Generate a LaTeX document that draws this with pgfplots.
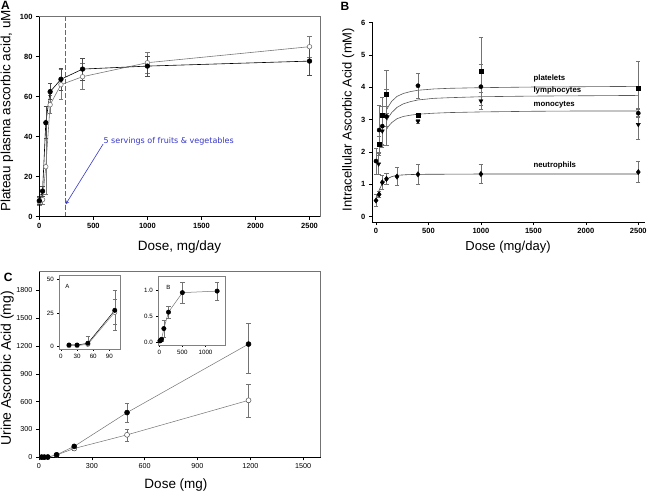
\documentclass[border=0pt]{standalone}
\usepackage{fontspec}
\setmainfont{Liberation Sans}
\newfontfamily\verd{DejaVu Sans}
\usepackage{pgfplots}
\pgfplotsset{compat=1.18}
\definecolor{annot}{RGB}{55,55,200}
\definecolor{dashc}{RGB}{90,90,215}
\definecolor{og}{RGB}{120,120,120}
\pgfplotsset{
  every axis/.append style={scale only axis, anchor=south west, clip=false,
    tick align=outside, tick pos=left, major tick length=3pt,
    /pgf/number format/assume math mode=true,
    /pgf/number format/1000 sep={},
    scaled ticks=false,
    every tick/.style={black, line width=0.5pt},
  },
  eb/.style={error bars/.cd, y dir=both, y explicit,
    error bar style={line width=0.5pt, #1},
    error mark options={rotate=90, mark size=2.2pt, line width=0.5pt, #1}},
}
\begin{document}
\begin{tikzpicture}
\useasboundingbox (0,0) rectangle (652pt,492pt);
% ---------------- Panel A ----------------
\begin{axis}[at={(39pt,275.3pt)}, width=281pt, height=200pt,
  xmin=-3, xmax=2597, ymin=0, ymax=100,
  xtick={0,500,...,2500}, ytick={0,20,...,100},
  axis line style={black!55, line width=0.6pt},
  tick label style={font=\bfseries\fontsize{7.5}{8}\selectfont},
]
\addplot[draw=dashc, dash pattern=on 4.5pt off 2.5pt, line width=0.8pt, mark=none] coordinates {(242,0) (242,100)};
\addplot[og, line width=0.6pt, mark=*, mark size=2.3pt, mark options={fill=white, draw=og}, eb=og]
 coordinates {(0,7.5) +- (0,2) (30,8.5) +- (0,2.5) (60,25) +- (0,14) (100,56) +- (0,4.5)
 (200,66) +- (0,7.5) (400,70) +- (0,6.5) (1000,77) +- (0,5.3) (2500,85) +- (0,5.3)};
\addplot[black, line width=0.6pt, mark=*, mark size=2.3pt, mark options={fill=black}, eb=black!70]
 coordinates {(0,8) +- (0,2) (30,12.8) +- (0,2.5) (60,47) +- (0,8) (100,62.5) +- (0,4)
 (200,68.7) +- (0,5.5) (400,73.8) +- (0,5.5) (1000,75.3) +- (0,5) (2500,77.8) +- (0,7)};
\draw[annot, -stealth, line width=0.6pt] (axis cs:590,36.3) -- (axis cs:244,6.2);
\node[annot, anchor=west, font=\verd\fontsize{8}{9}\selectfont, inner sep=0pt] at (axis cs:593,37.8) {5 servings of fruits \& vegetables};
\draw[black, line width=0.6pt] (rel axis cs:0,1) -- (rel axis cs:0,0) -- (rel axis cs:1,0);
\end{axis}
% ---------------- Panel B ----------------
\begin{axis}[at={(371.8pt,269.8pt)}, width=273.2pt, height=200.5pt,
  xmin=-40, xmax=2564, ymin=-0.17, ymax=6.03,
  xtick={0,500,...,2500}, ytick={0,1,...,6},
  axis x line*=bottom, axis y line*=left,
  axis line style={black, line width=0.6pt, -},
  tick label style={font=\bfseries\fontsize{7.5}{8}\selectfont},
]
\addplot[black!65, line width=0.6pt] coordinates {(100,3.30) (120,3.42) (150,3.57) (200,3.72) (260,3.81) (330,3.87) (400,3.91) (550,3.95) (700,3.97) (1000,3.99) (1500,4.01) (2000,4.02) (2500,4.03)};
\addplot[black!65, line width=0.6pt] coordinates {(100,2.95) (120,3.08) (150,3.22) (200,3.38) (260,3.49) (330,3.56) (400,3.61) (550,3.66) (700,3.68) (1000,3.71) (1500,3.73) (2000,3.74) (2500,3.75)};
\addplot[black!65, line width=0.6pt] coordinates {(100,2.70) (120,2.80) (150,2.91) (200,3.03) (260,3.10) (330,3.14) (400,3.17) (550,3.20) (700,3.22) (1000,3.24) (1500,3.26) (2000,3.27) (2500,3.27)};
\addplot[black!75, line width=0.6pt] coordinates {(0,0.5) (30,0.82) (60,1.03) (100,1.16) (150,1.24) (200,1.28) (300,1.30) (400,1.31) (1000,1.32) (2500,1.32)};
% squares
\addplot[only marks, mark=square*, mark size=2.1pt, black, eb=black!55]
 coordinates {(30,2.25) +- (0,0.25) (60,3.13) += (0,0.55) -= (0,0.9) (100,3.8) += (0,0.72) -= (0,0.6)
 (400,3.15) +- (0,0.05) (1000,4.5) +- (0,1.05) (2500,3.97) +- (0,0.85)};
% circles
\addplot[only marks, mark=*, mark size=2.1pt, black, eb=black!55]
 coordinates {(0,1.72) +- (0,0.41) (30,2.68) +- (0,0.78) (60,2.8) +- (0,0.6) (100,3.1) +- (0,0.3)
 (400,4.05) +- (0,0.4) (1000,4.02) +- (0,0.7) (2500,3.2) +- (0,0.14)};
% triangles down
\addplot[only marks, mark=triangle*, mark size=2.4pt, mark options={rotate=180}, black, eb=black!55]
 coordinates {(25,1.63) +- (0,0.33) (60,2.65) +- (0,0.5) (100,3.08) +- (0,0.86)
 (400,2.95) +- (0,0.05) (1000,3.58) +- (0,0.26) (2500,2.85) +- (0,0.47)};
% diamonds
\addplot[only marks, mark=diamond*, mark size=2.7pt, black, eb=black!55]
 coordinates {(0,0.5) +- (0,0.18) (30,0.69) +- (0,0.1) (60,1.06) +- (0,0.22) (100,1.17) +- (0,0.18)
 (200,1.24) +- (0,0.28) (400,1.31) +- (0,0.32) (1000,1.32) +- (0,0.3) (2500,1.38) +- (0,0.32)};
\node[anchor=west, font=\bfseries\fontsize{7.8}{9}\selectfont, inner sep=0pt] at (axis cs:1500,4.26) {platelets};
\node[anchor=west, font=\bfseries\fontsize{7.8}{9}\selectfont, inner sep=0pt] at (axis cs:1500,3.89) {lymphocytes};
\node[anchor=west, font=\bfseries\fontsize{7.8}{9}\selectfont, inner sep=0pt] at (axis cs:1500,3.45) {monocytes};
\node[anchor=west, font=\bfseries\fontsize{7.8}{9}\selectfont, inner sep=0pt] at (axis cs:1500,1.57) {neutrophils};
\end{axis}
% ---------------- Panel C ----------------
\begin{axis}[at={(39pt,34.7pt)}, width=281.7pt, height=185.6pt,
  xmin=0, xmax=1600, ymin=0, ymax=2000,
  xtick={0,300,...,1500}, ytick={0,300,...,1800},
  axis line style={black!55, line width=0.6pt},
  tick label style={font=\fontsize{7.2}{8}\selectfont},
]
\addplot[black!55, line width=0.5pt, mark=*, mark size=2.5pt, mark options={fill=white, draw=black!70}, eb=black!55]
 coordinates {(15,1) (30,1) (50,2) (100,25) (200,95) +- (0,20) (500,242) += (0,65) -= (0,72) (1190,614) += (0,174) -= (0,180)};
\addplot[black!55, line width=0.5pt, mark=*, mark size=2.5pt, mark options={fill=black, draw=black}, eb=black!55]
 coordinates {(15,2) (30,2) (50,3) (100,27) +- (0,5) (200,118) +- (0,15) (500,482) += (0,97) -= (0,105) (1190,1220) += (0,225) -= (0,310)};
\draw[black, line width=0.6pt] (rel axis cs:0,1) -- (rel axis cs:0,0) -- (rel axis cs:1,0);
\end{axis}
% inset A
\begin{axis}[at={(59.3pt,143pt)}, width=61.4pt, height=74pt,
  xmin=-3, xmax=111, ymin=-2, ymax=53.5,
  xtick={0,30,60,90}, ytick={0,25,50},
  major tick length=2pt,
  axis line style={black!50, line width=0.5pt},
  tick label style={font=\fontsize{6.2}{7}\selectfont},
]
\addplot[black!45, line width=0.5pt, mark=*, mark size=2.2pt, mark options={fill=white, draw=black!60}, eb=black!55]
 coordinates {(15,0.5) (30,0.5) (50,1.5) (100,25.5) += (0,10) -= (0,9.3)};
\addplot[black, line width=0.5pt, mark=*, mark size=2.2pt, mark options={fill=black}, eb=black!55]
 coordinates {(15,1) (30,1) (50,2.3) += (0,5) -= (0,1.5) (100,27) += (0,15.2) -= (0,14.6)};
\node[font=\fontsize{6}{7}\selectfont] at (rel axis cs:0.13,0.84) {A};
\end{axis}
% inset B
\begin{axis}[at={(158.3pt,147pt)}, width=66.7pt, height=69pt,
  xmin=-20, xmax=1420, ymin=-0.06, ymax=1.284,
  xtick={0,500,1000}, ytick={0,0.5,1},
  yticklabel style={/pgf/number format/.cd, fixed, fixed zerofill, precision=1},
  major tick length=2pt,
  axis line style={black!50, line width=0.5pt},
  tick label style={font=\fontsize{6.2}{7}\selectfont},
]
\addplot[black!55, line width=0.5pt, mark=*, mark size=2.2pt, mark options={fill=black, draw=black}, eb=black!55]
 coordinates {(15,0.02) (30,0.03) (50,0.05) +- (0,0.03) (100,0.26) +- (0,0.16) (200,0.58) +- (0,0.12) (500,0.96) += (0,0.2) -= (0,0.21) (1250,0.99) +- (0,0.17)};
\node[font=\fontsize{6}{7}\selectfont] at (rel axis cs:0.15,0.84) {B};
\end{axis}
% labels
\node[rotate=90, font=\fontsize{13.5}{15}\selectfont] at (7pt,381pt) {Plateau plasma ascorbic acid, uM};
\node[font=\fontsize{13.5}{15}\selectfont] at (179.5pt,245.3pt) {Dose, mg/day};
\node[rotate=90, font=\fontsize{13}{15}\selectfont] at (348.3pt,372.3pt) {Intracellular Ascorbic Acid (mM)};
\node[font=\fontsize{13}{15}\selectfont] at (508pt,245.3pt) {Dose (mg/day)};
\node[rotate=90, font=\fontsize{14}{15}\selectfont] at (7.3pt,123.7pt) {Urine Ascorbic Acid (mg)};
\node[font=\fontsize{13.5}{15}\selectfont] at (176pt,7pt) {Dose (mg)};
\node[font=\bfseries\fontsize{12}{14}\selectfont] at (5.5pt,486.5pt) {A};
\node[font=\bfseries\fontsize{12}{14}\selectfont] at (345pt,486pt) {B};
\node[font=\bfseries\fontsize{12}{14}\selectfont] at (8.3pt,214.7pt) {C};
\end{tikzpicture}
\end{document}
